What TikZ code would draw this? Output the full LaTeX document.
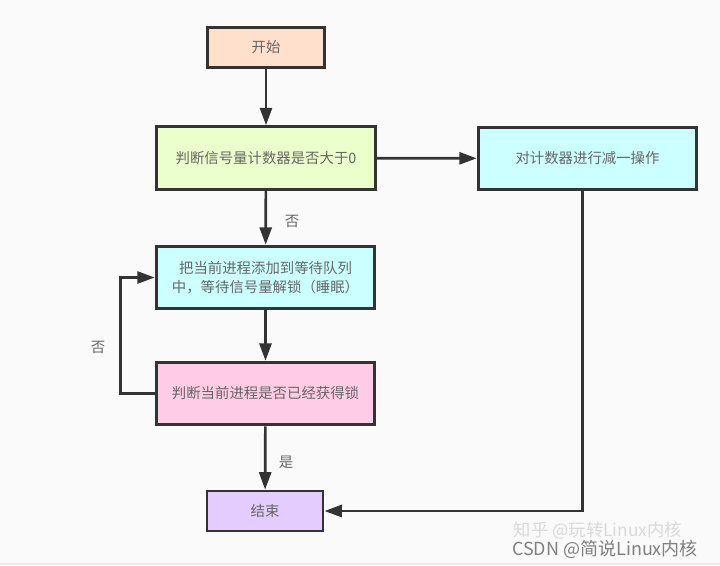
\documentclass[tikz,border=0pt]{standalone}
\usepackage{fontspec}
\newfontfamily\cjk{Noto Sans CJK SC}
\usetikzlibrary{arrows.meta}
\definecolor{bg}{HTML}{FAFAFA}
\definecolor{linec}{HTML}{333333}
\definecolor{txt}{HTML}{666666}
\definecolor{cstart}{HTML}{FFE0CC}
\definecolor{cgreen}{HTML}{EBFFCC}
\definecolor{ccyan}{HTML}{CCFFFF}
\definecolor{cpink}{HTML}{FFCCE6}
\definecolor{cpurple}{HTML}{E5CCFF}
\begin{document}
\begin{tikzpicture}[x=0.75pt,y=-0.75pt,
  box/.style={draw=linec, line width=2.2pt, text=txt, inner sep=0pt, align=center,
    font=\cjk\fontsize{10.8}{14.5}\selectfont},
  bigbox/.style={box, minimum width=164pt, minimum height=47pt},
  smallbox/.style={box, minimum width=88pt, minimum height=30.5pt},
  arr/.style={draw=linec, line width=2pt, -{Triangle[length=13pt,width=9pt]}},
  lbl/.style={text=txt, font=\cjk\fontsize{10.8}{13}\selectfont, inner sep=0pt}]
\fill[bg] (0,0) rectangle (720,565);
\fill[black!7] (0,563) rectangle (720,565);
\useasboundingbox (0,0) rectangle (720,565);

\node[smallbox, fill=cstart] (start) at (266,47.5) {开始};
\node[bigbox, fill=cgreen] (dec) at (266,158) {判断信号量计数器是否大于0};
\node[bigbox, fill=ccyan] (dec1) at (587.5,158.5) {对计数器进行减一操作};
\node[bigbox, fill=ccyan] (wait) at (265.5,277.5) {把当前进程添加到等待队列\\中，等待信号量解锁（睡眠）};
\node[bigbox, fill=cpink] (chk) at (265.5,393.5) {判断当前进程是否已经获得锁};
\node[smallbox, fill=cpurple, minimum width=87pt, minimum height=30pt] (end) at (265,511) {结束};

\draw[arr] (start) -- (dec);
\draw[arr] (dec) -- (dec1);
\draw[arr] (dec) -- (wait);
\draw[arr] (wait) -- (chk);
\draw[arr] (chk.west) -- ++(-34,0) |- (wait.west);
\draw[arr] (chk) -- (end);
\draw[arr] ([xshift=-4pt]dec1.south) |- (end.east);

\node[lbl] (l1) at (292,221) {否};
\node[lbl] (l2) at (98,347) {否};
\node[lbl] (l3) at (286,462) {是};

\node[text=black!15, font=\cjk\fontsize{13}{14}\selectfont, inner sep=0pt] (wm1) at (598,531) {知乎 @玩转Linux内核};
\node[text=black!50, font=\cjk\fontsize{13.5}{14}\selectfont, inner sep=0pt] (wm2) at (605,549) {CSDN @简说Linux内核};
\end{tikzpicture}
\end{document}
